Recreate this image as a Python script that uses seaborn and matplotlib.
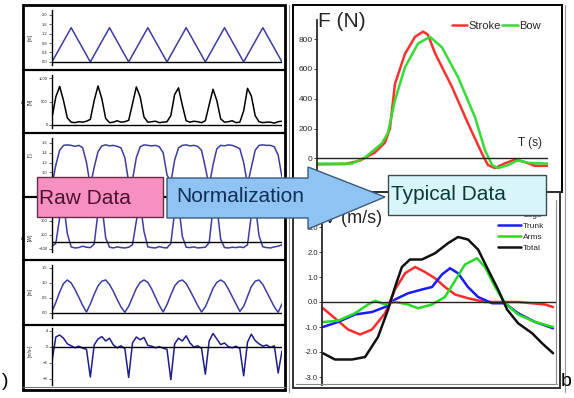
import numpy as np
import seaborn as sns
import matplotlib.pyplot as plt
from matplotlib.patches import Rectangle, Polygon

# ---------------- raw data (left column), six strokes, sampled every 0.1 cycle
t_raw = np.round(np.arange(0, 6.01, 0.1), 1)

disp_t = [0, 0.5, 1, 1.5, 2, 2.5, 3, 3.5, 4, 4.5, 5, 5.5, 6]
disp_v = [0, 1.45, 0, 1.45, 0, 1.45, 0, 1.45, 0, 1.45, 0, 1.45, 0]

force_raw = [150, 600, 820, 520, 150, 60, 50, 70, 60, 80,
             120, 520, 830, 560, 140, 50, 60, 90, 60, 70,
             100, 450, 810, 600, 170, 60, 70, 80, 50, 60,
             70, 200, 650, 790, 420, 90, 60, 80, 70, 50,
             90, 430, 760, 520, 130, 60, 70, 90, 50, 60,
             300, 780, 620, 200, 70, 50, 60, 60, 40, 70, 80]

angle_raw = [0.75, 1.15, 1.45, 1.55, 1.56, 1.55, 1.53, 1.55, 1.5, 1.2,
             0.72, 1.1, 1.42, 1.54, 1.56, 1.54, 1.55, 1.53, 1.5, 1.3,
             0.8, 0.85, 1.3, 1.52, 1.56, 1.55, 1.54, 1.55, 1.52, 1.4,
             0.95, 0.8, 1.25, 1.5, 1.55, 1.56, 1.54, 1.55, 1.53, 1.45,
             1.1, 0.72, 1.15, 1.48, 1.55, 1.54, 1.56, 1.55, 1.52, 1.48,
             1.2, 0.75, 1.1, 1.45, 1.55, 1.56, 1.55, 1.55, 1.52, 1.35, 0.9]

power_raw = [-60, -20, 350, 560, 120, -70, -85, -80, -60, -75,
             -80, -30, 420, 540, 60, -75, -85, -70, -80, -85,
             -75, -40, 300, 560, 150, -70, -80, -85, -65, -80,
             -85, -20, 430, 550, 80, -75, -80, -70, -85, -80,
             -75, -10, 480, 520, 40, -80, -85, -75, -80, -70,
             -80, -40, 380, 550, 90, -70, -80, -85, -70, -60, -40]

seat_raw = [0.05, 0.35, 0.7, 0.98, 1.1, 1.0, 0.78, 0.52, 0.25, 0.03,
            0.3, 0.62, 0.9, 1.06, 1.1, 0.95, 0.72, 0.45, 0.2, 0.02,
            0.22, 0.52, 0.82, 1.02, 1.1, 1.02, 0.8, 0.52, 0.25, 0.03,
            0.28, 0.6, 0.9, 1.05, 1.1, 0.98, 0.75, 0.5, 0.25, 0.03,
            0.2, 0.5, 0.82, 1.02, 1.1, 1.02, 0.8, 0.55, 0.3, 0.05,
            0.22, 0.55, 0.88, 1.06, 1.1, 0.95, 0.7, 0.45, 0.2, 0.02, 0.3]

accel_raw = [-3.5, 2.5, 3.0, 2.2, 0.8, 0.3, -0.2, 0.2, -0.3, -0.6,
             -7.5, 0.5, 2.0, 2.6, 1.5, 2.2, 0.5, -0.2, 0.3, -0.4,
             -7.6, 1.0, 2.5, 1.8, 2.4, 0.4, 0.2, -0.2, 0.1, -0.3,
             -0.6, -8.2, 0.8, 2.2, 1.5, 2.8, 1.0, 0.0, 0.3, -0.3,
             -6.8, 1.5, 3.4, 2.0, 0.6, 1.0, 0.1, -0.2, 0.2, -0.4,
             -7.2, 1.2, 3.2, 1.6, 0.8, 0.2, 0.5, -0.1, 0.3, -6.5, -1.0]

# ---------------- typical force curve (top right), % of stroke
stroke_t = [0, 11.7, 18.3, 24.8, 29.1, 31.3, 33.5, 37.8, 42.2, 45.7, 47.8, 50.9,
            58.3, 65.2, 71.3, 73.9, 77, 81.3, 85.7, 90, 94.3, 100]
stroke_f = [-40, -38, -15, 40, 105, 200, 500, 700, 815, 850, 830, 705,
            478, 235, 33, -45, -65, -33, -8, -25, -50, -50]
bow_t = [0, 14.8, 20.4, 27.8, 30.4, 33.5, 37.8, 43.5, 48.7, 53.9, 60.9, 68.3,
         72.6, 75.7, 78.3, 82.6, 87, 91.3, 100]
bow_f = [-35, -35, 5, 100, 170, 390, 610, 770, 815, 745, 545, 275,
         55, -45, -65, -45, -12, -30, -35]

# ---------------- typical velocity curves (bottom right)
total_t = [0, 5.2, 12.6, 18.3, 23.9, 28.3, 31.3, 34.3, 37.8, 43, 48.7, 54.3,
           58.7, 63, 67.4, 71.7, 76.1, 80, 84.8, 90.9, 95.2, 100]
total_v = [-2.05, -2.3, -2.3, -2.2, -1.4, -0.3, 0.6, 1.4, 1.7, 1.7, 1.95, 2.35,
           2.6, 2.5, 2.1, 1.3, 0.5, -0.3, -0.85, -1.25, -1.65, -2.05]
legs_t = [0, 5.2, 10.9, 16.1, 21.3, 27, 31.3, 35.7, 40, 44.3, 48.7, 53,
          57.4, 63, 70.4, 84.8, 96.5, 100]
legs_v = [-0.25, -0.65, -1.1, -1.3, -1.1, -0.45, 0.5, 1.15, 1.4, 1.2, 0.95, 0.6,
          0.3, 0.15, 0.0, 0.0, -0.1, -0.2]
trunk_t = [0, 6.5, 13.9, 21.3, 27, 31.3, 37, 43, 47.4, 51.7, 55.2, 58.7,
           63, 67.4, 73.5, 79.1, 84.8, 92.2, 100]
trunk_v = [-1.0, -0.8, -0.5, -0.4, -0.2, 0.1, 0.35, 0.5, 0.6, 1.1, 1.35, 1.15,
           0.6, 0.2, -0.05, -0.05, -0.45, -0.8, -1.05]
arms_t = [0, 6.5, 13.9, 19.6, 22.6, 27, 31.3, 37, 41.3, 47.4, 53, 57.4,
          61.7, 66.9, 70.4, 74.8, 79.1, 84.8, 92.2, 100]
arms_v = [-0.8, -0.75, -0.45, -0.1, 0.05, -0.1, 0.0, -0.1, -0.25, -0.1, 0.2, 0.85,
          1.5, 1.75, 1.4, 0.6, -0.05, -0.5, -0.8, -1.0]

W, H = 574, 398


def px_box(x0, y0, x1, y1):
    # pixel box with top-left origin -> figure fraction rect
    return [x0 / W, 1 - y1 / H, (x1 - x0) / W, (y1 - y0) / H]


sns.set_theme(style="white")
plt.rcParams['font.family'] = ['Liberation Sans', 'DejaVu Sans']

fig = plt.figure(figsize=(5.74, 3.98), dpi=100)

# ---------------- left column: raw signals
# (x, y, top px, bottom px, ylim, ticks, ylabel, label y position, colour)
rows = [
    (disp_t, disp_v, 10, 65, (-0.13, 2.2), [0, 0.4, 0.8, 1.2, 1.6, 2], "x\n[m]", 0.5, "#3c3ca8"),
    (t_raw, force_raw, 75, 128, (-64, 1064), [0, 500, 1000], "F\n[N]", 0.5, "black"),
    (t_raw, angle_raw, 138, 192, (0.6, 1.7), [1.0, 1.2, 1.4, 1.6], "a\n[°]", 0.7, "#3c3ca8"),
    (t_raw, power_raw, 200, 252, (-143, 600), [-100, 100, 300], "P\n[W]", 0.28, "#3c3ca8"),
    (t_raw, seat_raw, 265, 318, (-0.17, 1.6), [0, 0.5, 1.0, 1.5], "s\n[m]", 0.5, "#3c3ca8"),
    (t_raw, accel_raw, 328, 385, (-9.5, 4.75), [-8, -4, 0, 4], "a\n[m/s²]", 0.6, "#1e1e90"),
]
for xs, ys, top, bot, lim, ticks, lab, laby, col in rows:
    ax = fig.add_axes(px_box(52, top, 282, bot))
    sns.lineplot(x=xs, y=ys, ax=ax, color=col, lw=1.1)
    ax.axhline(0, color="black", lw=1)
    ax.set_xlim(0, 6)
    ax.set_ylim(*lim)
    ax.set_yticks(ticks)
    ax.set_xticks([])
    ax.tick_params(axis="y", labelsize=3, length=2, width=0.5, pad=1, left=True)
    ax.set_ylabel(lab, fontsize=3.5, labelpad=1)
    ax.yaxis.set_label_coords(-0.085, laby)
    for s in ["top", "right", "bottom"]:
        ax.spines[s].set_visible(False)
    ax.spines["left"].set_color("black")
    ax.spines["left"].set_linewidth(1)
    ax.patch.set_alpha(0)

# ---------------- top right: force
axf = fig.add_axes(px_box(317, 20, 548, 170))
sns.lineplot(x=stroke_t, y=stroke_f, ax=axf, color="#ff3030", lw=1.8, label="Stroke")
sns.lineplot(x=bow_t, y=bow_f, ax=axf, color="#33dd33", lw=1.8, label="Bow")
axf.axhline(0, color="#222222", lw=1)
axf.set_xlim(-0.4, 100)
axf.set_ylim(-78, 928)
axf.set_yticks([0, 200, 400, 600, 800])
axf.set_xticks([])
axf.tick_params(axis="y", labelsize=6, length=2, width=0.6, pad=1, left=True)
for s in ["top", "right", "bottom"]:
    axf.spines[s].set_visible(False)
axf.spines["left"].set_color("#222222")
axf.legend(loc="upper right", bbox_to_anchor=(1.01, 1.06), ncol=2, frameon=False,
           fontsize=8, handlelength=1.4, handletextpad=0.1, columnspacing=0.1)
axf.text(0.005, 0.99, "F (N)", transform=axf.transAxes, fontsize=15, va="center", ha="left")
axf.text(0.92, 0.16, "T (s)", transform=axf.transAxes, fontsize=8.5, ha="center")

# ---------------- bottom right: velocity
axv = fig.add_axes(px_box(322, 218, 557, 385))
sns.lineplot(x=legs_t, y=legs_v, ax=axv, color="#ff2a2a", lw=1.8, label="Legs")
sns.lineplot(x=trunk_t, y=trunk_v, ax=axv, color="#1a1aff", lw=1.8, label="Trunk")
sns.lineplot(x=arms_t, y=arms_v, ax=axv, color="#22dd22", lw=1.8, label="Arms")
sns.lineplot(x=total_t, y=total_v, ax=axv, color="#111111", lw=1.8, label="Total")
axv.axhline(0, color="#222222", lw=1)
axv.set_xlim(-0.43, 101.7)
axv.set_ylim(-3.32, 3.36)
axv.set_yticks([-3, -2, -1, 0, 1, 2, 3])
axv.set_yticklabels([f"{v:.1f}" for v in [-3, -2, -1, 0, 1, 2, 3]])
axv.set_xticks([])
axv.tick_params(axis="y", labelsize=5.5, length=2, width=0.6, pad=1, left=True)
for s in ["top", "right", "bottom"]:
    axv.spines[s].set_visible(False)
axv.spines["left"].set_color("#222222")
axv.legend(loc="upper left", bbox_to_anchor=(490 / W, 1 - 204 / H), bbox_transform=fig.transFigure,
           frameon=False, fontsize=6, handlelength=2.8, handletextpad=0.3, labelspacing=0.35)
axv.text(0.01, 1.0, "V (m/s)", transform=axv.transAxes, fontsize=13, va="center", ha="left")

# ---------------- overlay: frames, boxes, arrow
ov = fig.add_axes([0, 0, 1, 1], zorder=20)
ov.set_xlim(0, W)
ov.set_ylim(H, 0)
ov.axis("off")

# left frame and row separators
ov.add_patch(Rectangle((23, 5), 262, 385, fill=False, ec="black", lw=2))
for y in [70, 133, 197, 260, 325]:
    ov.plot([23, 285], [y, y], color="black", lw=1.6)
ov.plot([23, 285], [387, 387], color="#777777", lw=0.8)

# right frames (double lines)
ov.add_patch(Rectangle((293, 5), 269, 187, fill=False, ec="black", lw=1.4))
ov.plot([289, 289], [5, 392], color="#999999", lw=0.8)
ov.plot([565, 565], [5, 392], color="#999999", lw=0.8)
ov.add_patch(Rectangle((293, 192), 267, 196, fill=False, ec="#333333", lw=1.4))
ov.plot([296, 557], [384, 384], color="#888888", lw=0.8)
ov.plot([556, 556], [200, 384], color="#888888", lw=0.8)

# Raw Data box
ov.add_patch(Rectangle((37, 177), 126, 40, fc="#f590c0", ec="#6a2a48", lw=1, zorder=5))
ov.text(39, 198, "Raw Data", fontsize=15, color="#4e1230", va="center", ha="left", zorder=6)

# Normalization arrow
arrow = Polygon([(167, 178), (308, 178), (308, 167), (385, 197), (308, 229), (308, 218), (167, 218)],
                closed=True, fc="#8fc3f2", ec="#3a5a80", lw=1, zorder=5)
ov.add_patch(arrow)
ov.text(176, 197, "Normalization", fontsize=15, color="#10305a", va="center", ha="left", zorder=6)

# Typical Data box
ov.add_patch(Rectangle((388, 175), 158, 40, fc="#d8f5fa", ec="#3d4d4d", lw=1, zorder=5))
ov.text(391, 195, "Typical Data", fontsize=15, color="#0c3a3a", va="center", ha="left", zorder=6)

ov.text(2, 381, ")", fontsize=14, color="black", va="center", ha="left")
ov.text(561, 381, "b", fontsize=14, color="black", va="center", ha="left")

fig.savefig("out.png", dpi=100)
